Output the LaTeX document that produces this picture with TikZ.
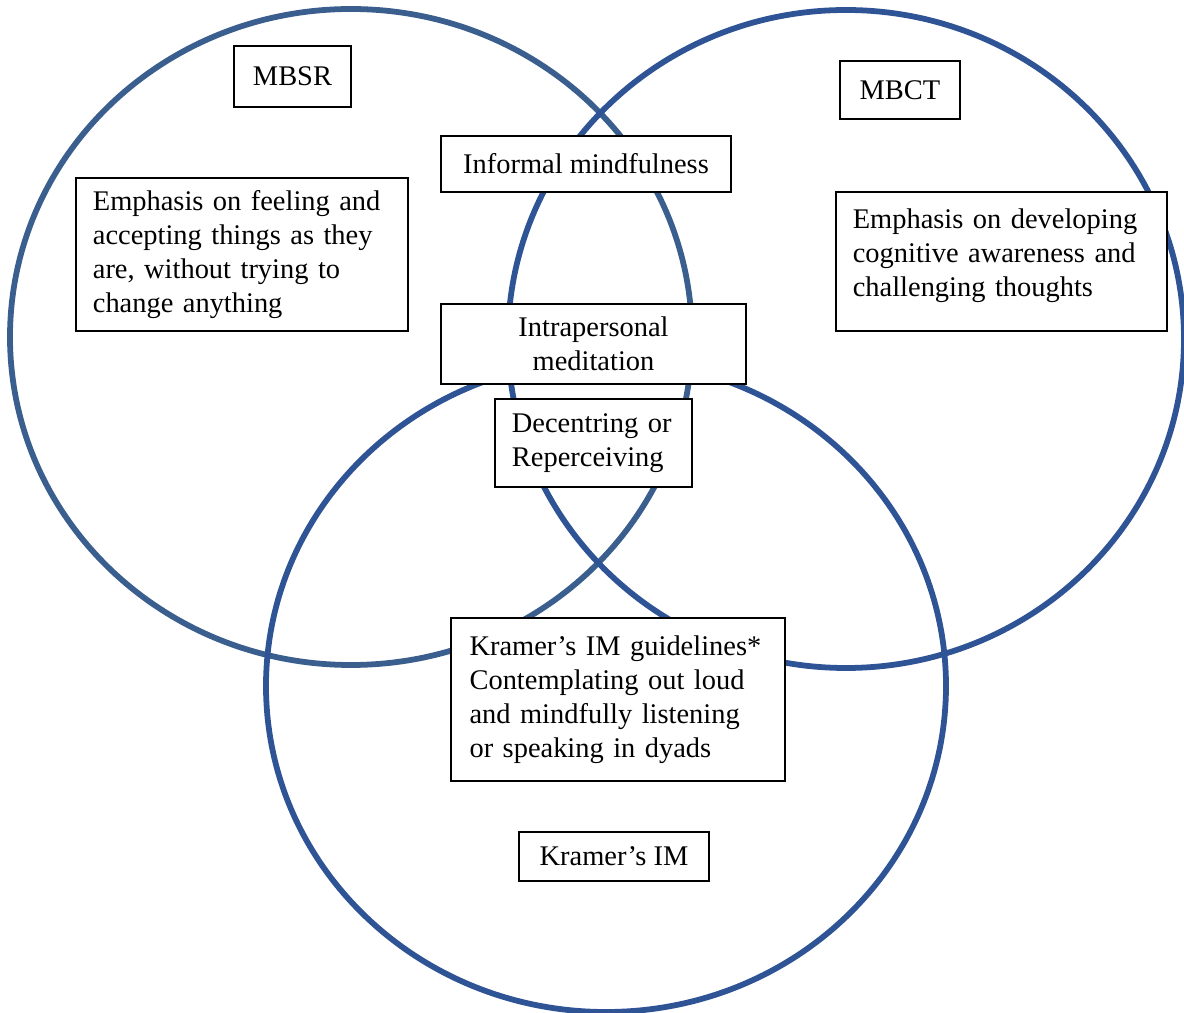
\documentclass[tikz,border=0pt]{standalone}
\usepackage{fontspec}
\setmainfont{Liberation Serif}
\definecolor{leftring}{HTML}{3A5F8E}
\definecolor{ring}{HTML}{2F5496}
\tikzset{
  ringline/.style={line width=2.6pt, draw=ring},
  textbox/.style={draw=black, fill=white, line width=0.6pt, inner xsep=7.6pt,
    inner ysep=0pt, font=\fontsize{12.8}{15.3}\selectfont},
  notebox/.style={textbox, align=left},
  labelbox/.style={textbox, align=center, inner xsep=0pt},
}
\begin{document}
\begin{tikzpicture}[x=0.45pt, y=-0.45pt]
\useasboundingbox (0,0) rectangle (1184,1013);
% the three rings
\draw [ringline, draw=leftring] (351,337) ellipse [x radius=341, y radius=328];
\draw [ringline] (846,339) ellipse [x radius=338, y radius=329];
\draw [ringline] (606,686) ellipse [x radius=340, y radius=326];
\node [labelbox, minimum width=52.6pt, minimum height=27.4pt] (mbsr) at (292.5,76.5) {MBSR};
\node [labelbox, minimum width=54pt, minimum height=26.1pt] (mbct) at (900,90) {MBCT};
\node [labelbox, minimum width=130.5pt, minimum height=25.2pt] (informal) at (586,164) {Informal mindfulness};
\node [notebox, text width=134.2pt, minimum height=68.9pt] (mbsrnote) at (242,254.5)
      {Emphasis on feeling and\\ accepting things as they\\ are, without trying to\\ change anything};
% pushed up a little, as in the original
\node [notebox, text width=133.8pt, minimum height=62.6pt] (mbctnote) at (1001.5,261.5)
      {Emphasis on developing\\ cognitive awareness and\\ challenging thoughts\\[-7pt]\mbox{}};
\node [labelbox, minimum width=137.2pt, minimum height=36pt] (intra) at (593.5,344)
      {Intrapersonal\\ meditation};
\node [notebox, text width=73.4pt, minimum height=39.6pt] (decentring) at (593.5,443)
      {Decentring or\\ Reperceiving};
\node [notebox, text width=133.6pt, inner xsep=8.4pt, minimum height=73.4pt] (guidelines) at (618,699.5)
      {Kramer’s IM guidelines*\\ Contemplating out loud\\ and mindfully listening\\ or speaking in dyads};
\node [labelbox, minimum width=85.5pt, minimum height=22pt] (kramer) at (614,856.5) {Kramer’s IM};
\end{tikzpicture}
\end{document}
